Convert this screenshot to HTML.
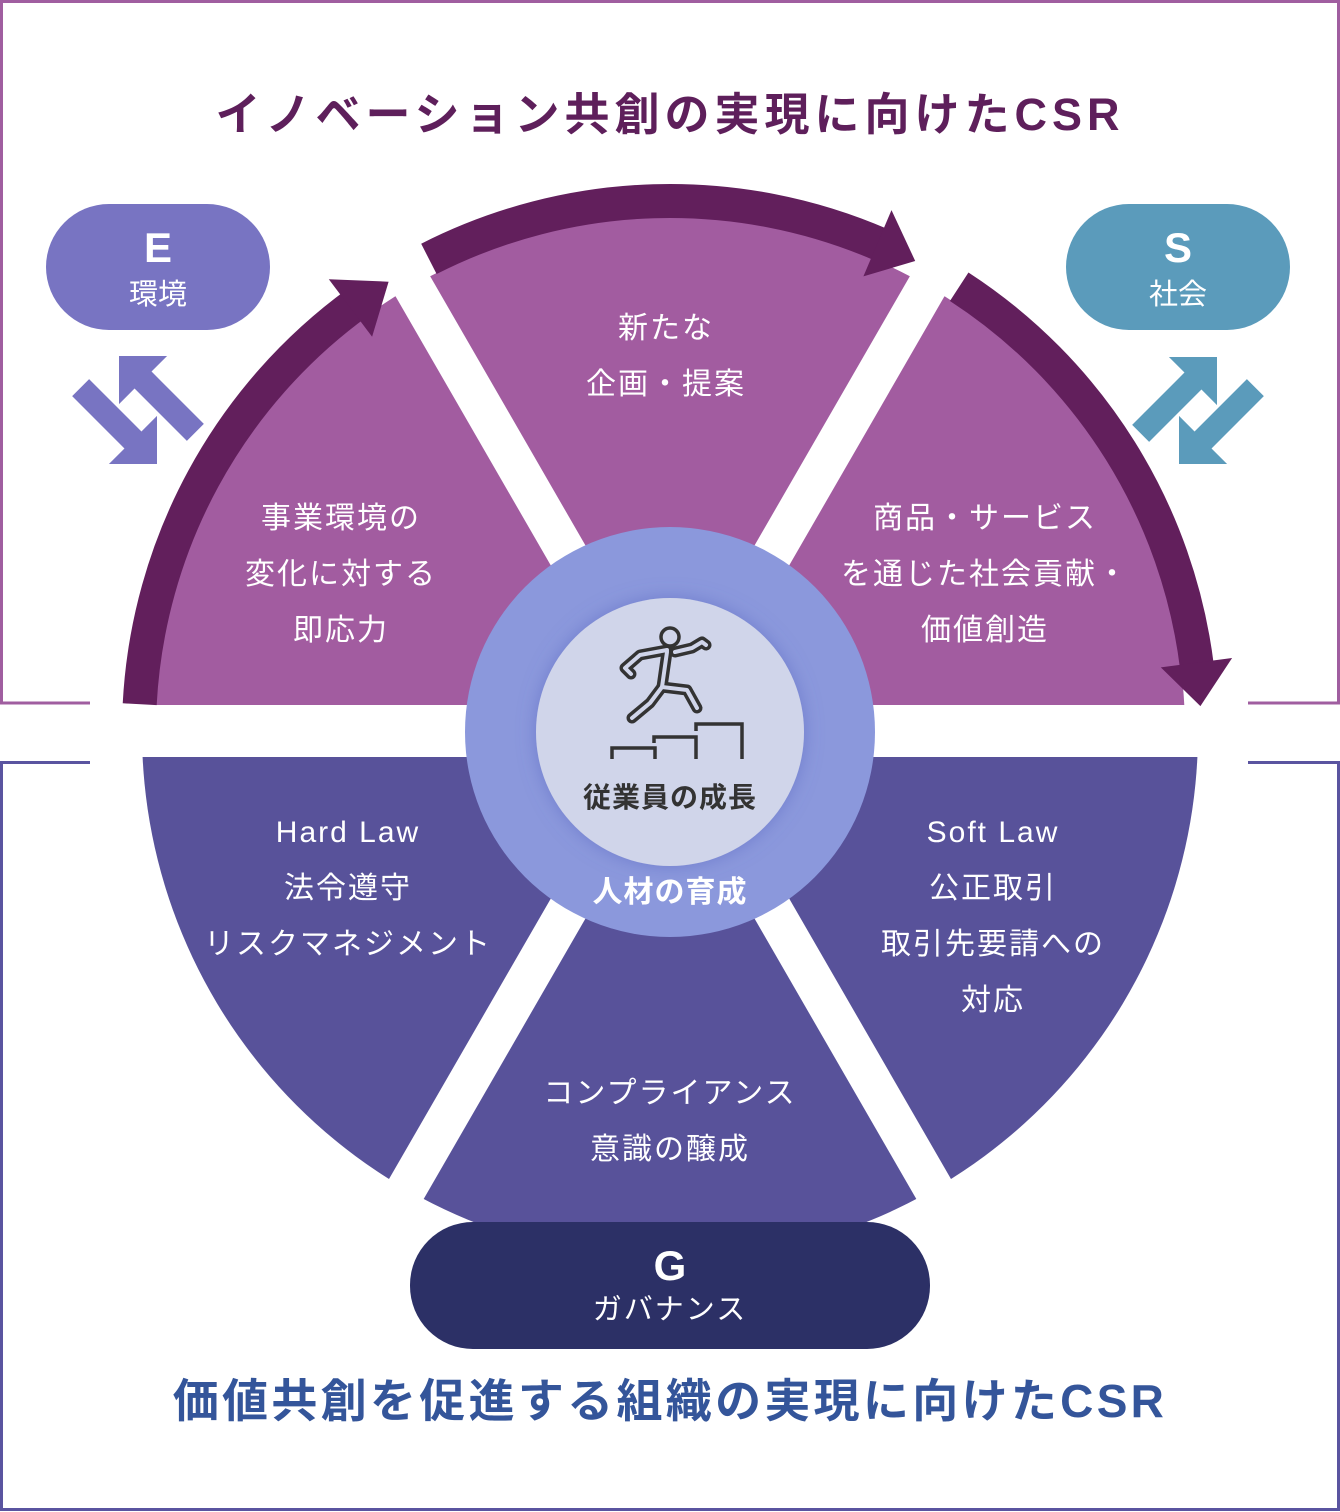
<!DOCTYPE html>
<html><head><meta charset="utf-8">
<style>
html,body{margin:0;padding:0;background:#fff;}
svg{display:block;}
text{font-family:"Liberation Sans","Noto Sans CJK JP",sans-serif;}
</style></head>
<body>
<svg width="1340" height="1512" viewBox="0 0 1340 1512" xmlns="http://www.w3.org/2000/svg">
<defs>
<filter id="sh" x="-30%" y="-30%" width="160%" height="160%">
<feDropShadow dx="0" dy="0" stdDeviation="9" flood-color="#5a68c0" flood-opacity="0.55"/>
</filter>
</defs>
<path d="M155,732 A515,515 0 0 1 1185,732 Z" fill="#a25ca0"/>
<path d="M142,732 A528,528 0 0 0 1198,732 Z" fill="#58529a"/>
<rect x="0" y="705" width="1340" height="52" fill="#fff"/>
<line x1="970" y1="212" x2="370" y2="1252" stroke="#fff" stroke-width="40"/>
<line x1="370" y1="212" x2="970" y2="1252" stroke="#fff" stroke-width="40"/>
<path d="M90,703 L1.5,703 L1.5,1.5 L1338.5,1.5 L1338.5,703 L1248,703" fill="none" stroke="#a05ea0" stroke-width="3"/>
<path d="M90,762.5 L1.5,762.5 L1.5,1509.5 L1338.5,1509.5 L1338.5,762.5 L1248,762.5" fill="none" stroke="#5a54a0" stroke-width="3"/>
<g fill="none" stroke="#621f5c" stroke-width="34">
<path d="M139.7,704.2 A531,531 0 0 1 357.9,302.4"/>
<path d="M428.9,258.9 A531,531 0 0 1 881.7,245.0"/>
<path d="M959.2,286.7 A531,531 0 0 1 1197.0,667.3"/>
</g>
<g fill="#621f5c">
<polygon points="372.1,336.7 328.8,279.2 388.6,281.7"/>
<polygon points="863.4,276.4 891.5,210.1 915.2,261.0"/>
<polygon points="1160.8,667.4 1232.1,658.0 1200.4,706.1"/>
</g>
<circle cx="670" cy="732" r="205" fill="#8b98dc"/>
<circle cx="670" cy="732" r="134" fill="#d0d5ea" filter="url(#sh)"/>
<g fill="none" stroke-linejoin="round" stroke-linecap="round">
<g stroke="#333" stroke-width="11">
<polyline points="631,674 625,668 640,655 667,650"/>
<polyline points="675,652 692,648 702,642 706,645"/>
<polyline points="667,652 662,687"/>
<polyline points="662,687 687,690 697,708"/>
<polyline points="662,687 650,703 632,718"/>
</g>
<g stroke="#d0d5ea" stroke-width="4">
<polyline points="631,674 625,668 640,655 667,650"/>
<polyline points="675,652 692,648 702,642 706,645"/>
<polyline points="667,652 662,687"/>
<polyline points="662,687 687,690 697,708"/>
<polyline points="662,687 650,703 632,718"/>
</g>
<circle cx="670" cy="637" r="9" stroke="#333" stroke-width="3.5" fill="#d0d5ea"/>
<g stroke="#333" stroke-width="3.5" stroke-linecap="butt" stroke-linejoin="miter">
<polyline points="612,759 612,748 655,748 655,759"/>
<polyline points="654,743 654,737 696,737 696,759"/>
<polyline points="696,731 696,724 742,724 742,759"/>
</g>
</g>
<text x="670" y="807" text-anchor="middle" font-size="28" font-weight="bold" fill="#333" letter-spacing="1">従業員の成長</text>
<text x="670" y="902" text-anchor="middle" font-size="30" font-weight="bold" fill="#fff" letter-spacing="1">人材の育成</text>
<g font-size="30" fill="#fff" text-anchor="middle" letter-spacing="2">
<text x="666" y="338">新たな</text>
<text x="666" y="394">企画・提案</text>
<text x="341" y="528">事業環境の</text>
<text x="341" y="584">変化に対する</text>
<text x="341" y="640">即応力</text>
<text x="985" y="528">商品・サービス</text>
<text x="985" y="584">を通じた社会貢献・</text>
<text x="985" y="640">価値創造</text>
<text x="348" y="842">Hard Law</text>
<text x="348" y="898">法令遵守</text>
<text x="348" y="954">リスクマネジメント</text>
<text x="993" y="842">Soft Law</text>
<text x="993" y="898">公正取引</text>
<text x="993" y="954">取引先要請への</text>
<text x="993" y="1010">対応</text>
<text x="670" y="1103">コンプライアンス</text>
<text x="670" y="1159">意識の醸成</text>
</g>
<rect x="46" y="204" width="224" height="126" rx="63" fill="#7874c2"/>
<rect x="1066" y="204" width="224" height="126" rx="63" fill="#5b9bbb"/>
<rect x="410" y="1222" width="520" height="127" rx="63" fill="#2c3066"/>
<g fill="#fff" text-anchor="middle">
<text x="158" y="262" font-size="42" font-weight="bold">E</text>
<text x="158" y="304" font-size="29">環境</text>
<text x="1178" y="262" font-size="42" font-weight="bold">S</text>
<text x="1178" y="304" font-size="29">社会</text>
<text x="670" y="1280" font-size="42" font-weight="bold">G</text>
<text x="670" y="1319" font-size="29" letter-spacing="2">ガバナンス</text>
</g>
<g fill="#7874c2">
<polygon transform="translate(157,464) rotate(45)" points="0,0 -34,-34 -34,-12 -108,-12 -108,12 -34,12 -34,34"/>
<polygon transform="translate(119,356) rotate(-135)" points="0,0 -34,-34 -34,-12 -108,-12 -108,12 -34,12 -34,34"/>
</g>
<g fill="#5b9bbb">
<polygon transform="translate(1217,357) rotate(-45)" points="0,0 -34,-34 -34,-12 -108,-12 -108,12 -34,12 -34,34"/>
<polygon transform="translate(1179,464) rotate(135)" points="0,0 -34,-34 -34,-12 -108,-12 -108,12 -34,12 -34,34"/>
</g>
<text x="670" y="130" text-anchor="middle" font-size="45" font-weight="bold" fill="#5e1f5b" letter-spacing="5">イノベーション共創の実現に向けたCSR</text>
<text x="670" y="1417" text-anchor="middle" font-size="46" font-weight="bold" fill="#34559a" letter-spacing="3.3">価値共創を促進する組織の実現に向けたCSR</text>
</svg>
</body></html>
